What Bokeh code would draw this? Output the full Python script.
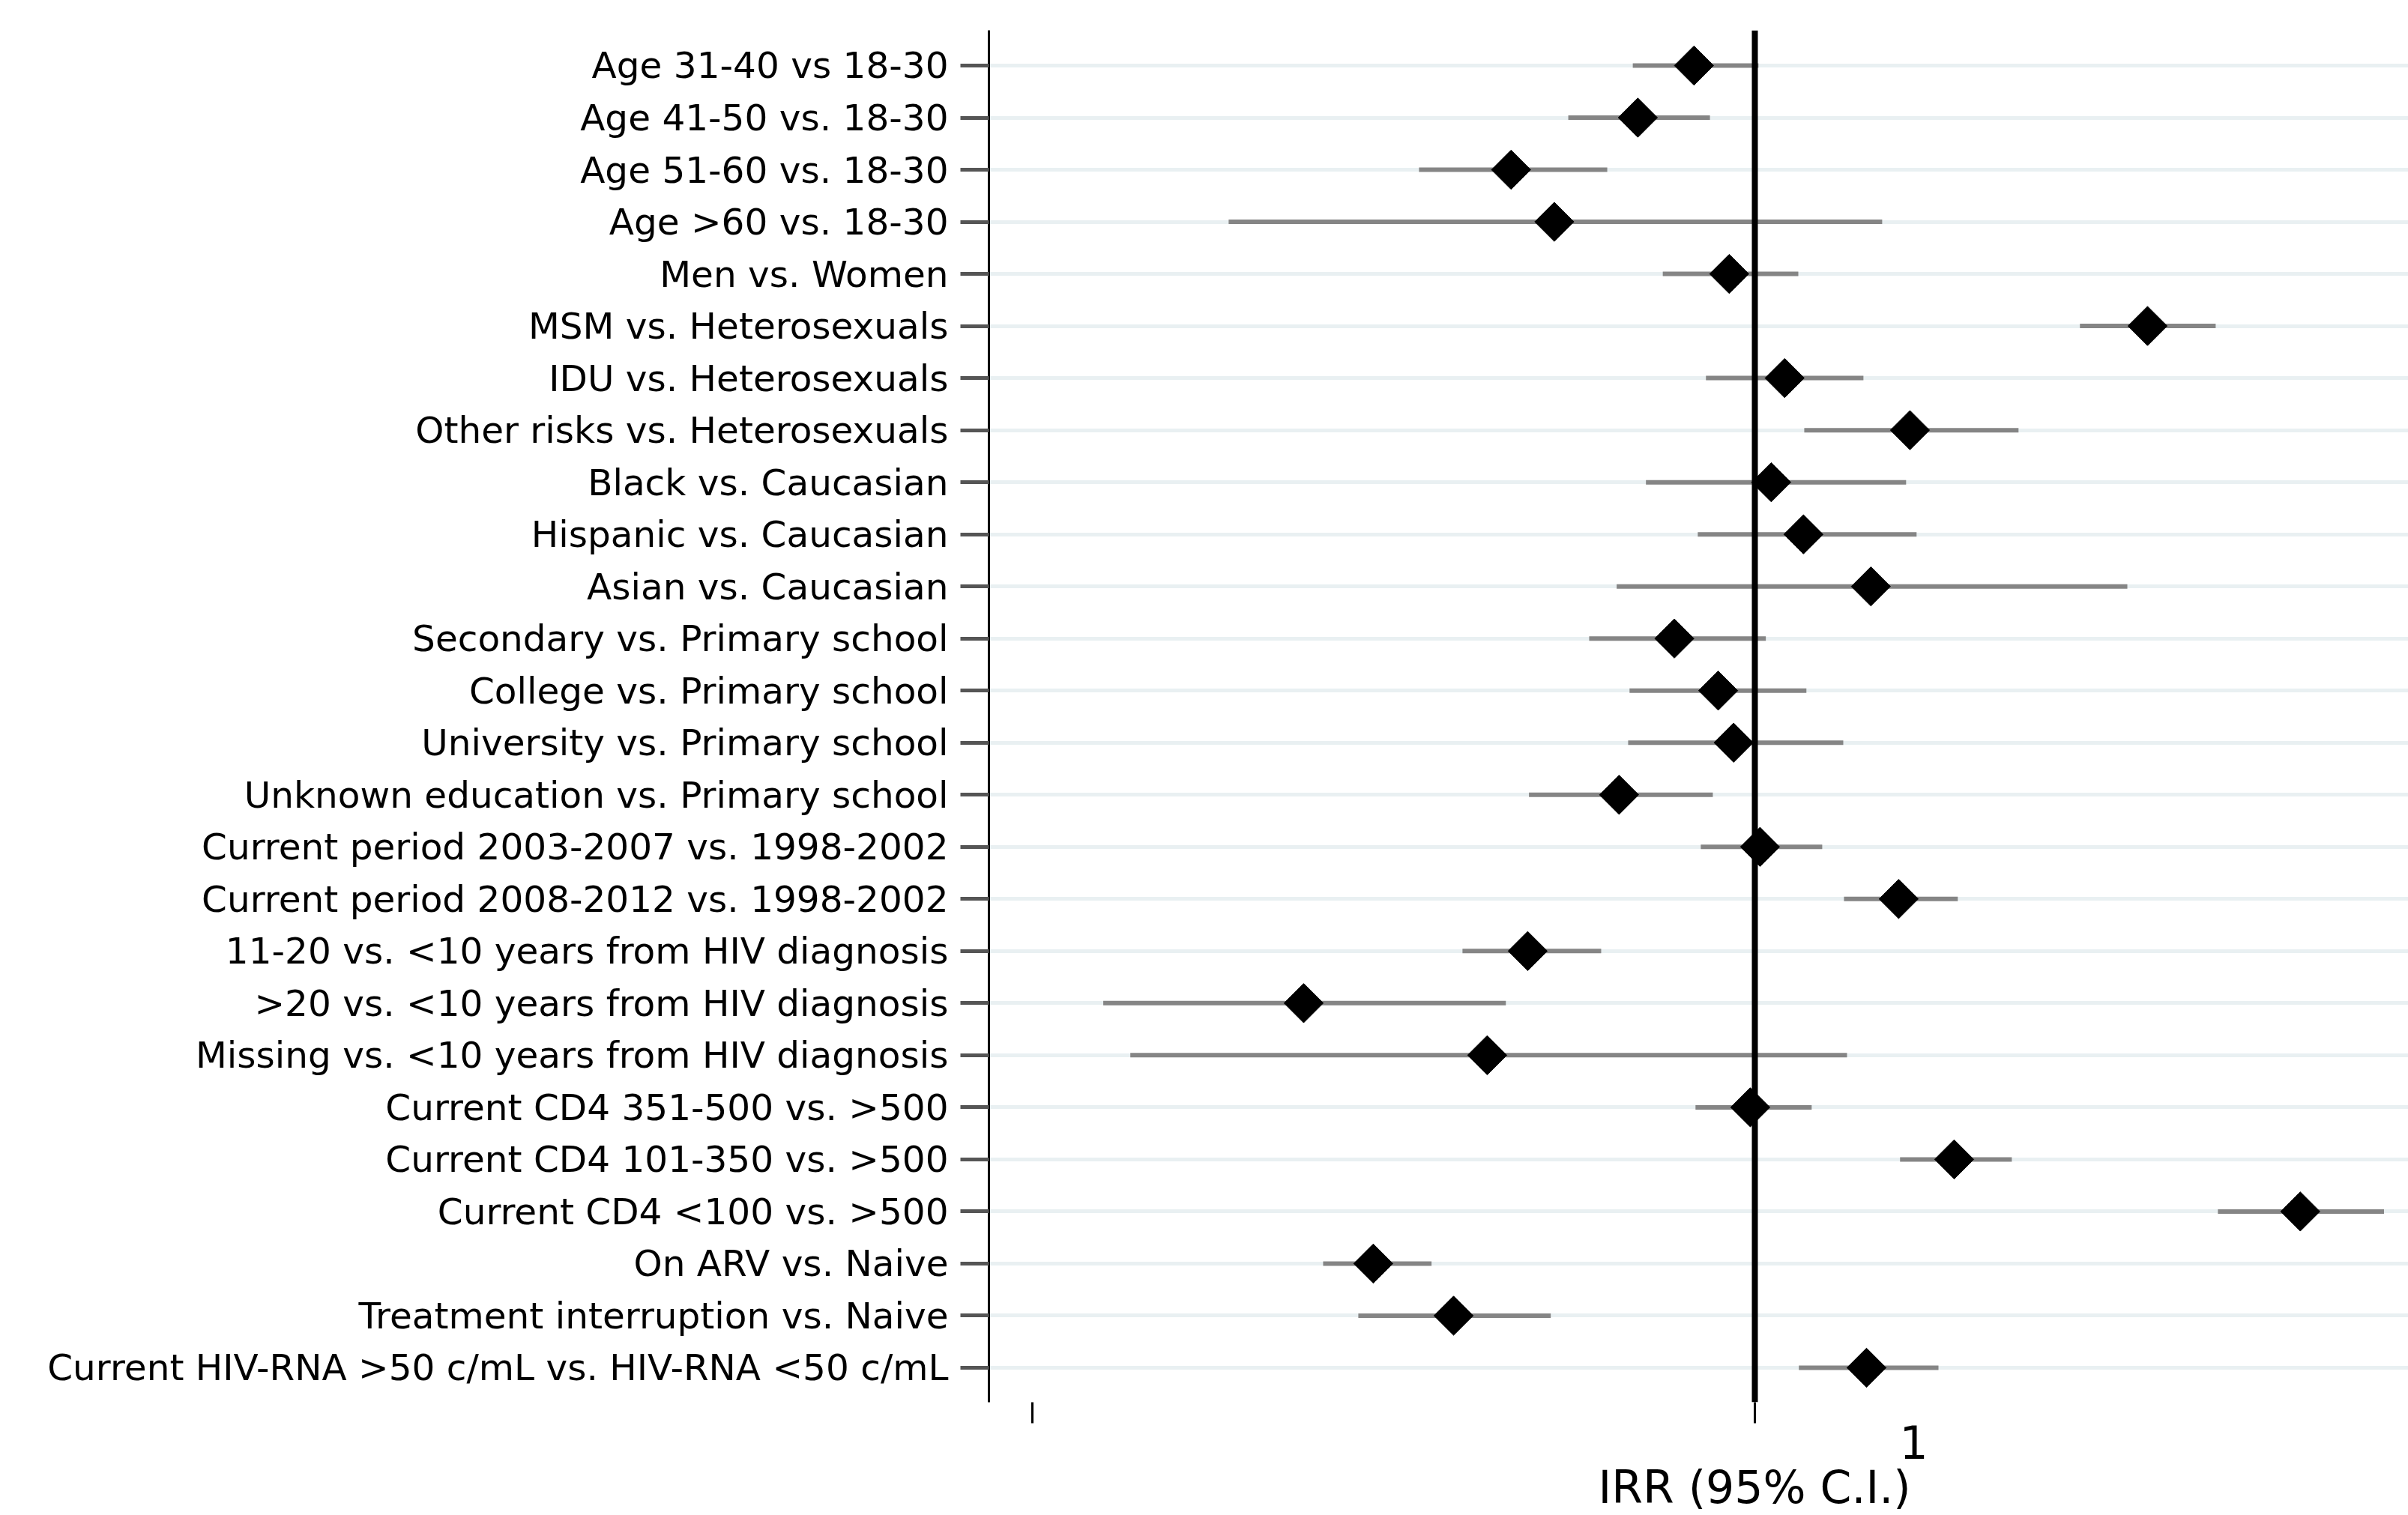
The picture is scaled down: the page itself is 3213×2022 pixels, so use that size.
import numpy as np
from bokeh.plotting import figure
from bokeh.models import Range1d, FixedTicker, Title, ColumnDataSource, CustomJSTickFormatter
from bokeh.embed import file_html
from bokeh.resources import INLINE

categories = [
    "Age 31-40 vs 18-30",
    "Age 41-50 vs. 18-30",
    "Age 51-60 vs. 18-30",
    "Age >60 vs. 18-30",
    "Men vs. Women",
    "MSM vs. Heterosexuals",
    "IDU vs. Heterosexuals",
    "Other risks vs. Heterosexuals",
    "Black vs. Caucasian",
    "Hispanic vs. Caucasian",
    "Asian vs. Caucasian",
    "Secondary vs. Primary school",
    "College vs. Primary school",
    "University vs. Primary school",
    "Unknown education vs. Primary school",
    "Current period 2003-2007 vs. 1998-2002",
    "Current period 2008-2012 vs. 1998-2002",
    "11-20 vs. <10 years from HIV diagnosis",
    ">20 vs. <10 years from HIV diagnosis",
    "Missing vs. <10 years from HIV diagnosis",
    "Current CD4 351-500 vs. >500",
    "Current CD4 101-350 vs. >500",
    "Current CD4 <100 vs. >500",
    "On ARV vs. Naive",
    "Treatment interruption vs. Naive",
    "Current HIV-RNA >50 c/mL vs. HIV-RNA <50 c/mL",
]

irr = [0.824, 0.689, 0.460, 0.528, 0.922, 3.497, 1.100, 1.640, 1.054, 1.168,
       1.448, 0.774, 0.890, 0.935, 0.649, 1.017, 1.582, 0.485, 0.2375, 0.4263,
       0.986, 1.888, 5.69, 0.2965, 0.383, 1.428]
ci_low = [0.678, 0.552, 0.343, 0.187, 0.746, 2.819, 0.856, 1.171, 0.707, 0.834,
          0.644, 0.590, 0.671, 0.668, 0.487, 0.842, 1.329, 0.394, 0.1254, 0.1367,
          0.828, 1.589, 4.376, 0.2527, 0.2827, 1.151]
ci_high = [1.012, 0.867, 0.625, 1.501, 1.149, 4.345, 1.414, 2.318, 1.620, 1.675,
           3.279, 1.036, 1.179, 1.326, 0.875, 1.240, 1.910, 0.613, 0.4524, 1.342,
           1.199, 2.269, 7.43, 0.357, 0.522, 1.796]

ref_value = [1]
x_ticks = [0.1, 1]
tick_text = "1"
axis_title = "IRR (95% C.I.)"

FONT = "DejaVu Sans"

rows = list(range(len(categories)))
src = ColumnDataSource(dict(row=rows, irr=irr, lo=ci_low, hi=ci_high))

p = figure(width=3213, height=2020, x_axis_type="log",
           x_range=Range1d(0.0871, 8.03), y_range=Range1d(25.662, -0.676),
           output_backend="svg", toolbar_location=None,
           min_border_left=1319, min_border_right=0,
           min_border_top=40, min_border_bottom=149)
p.outline_line_color = None
p.background_fill_color = "white"
p.border_fill_color = "white"

p.xgrid.grid_line_color = None
p.ygrid.ticker = FixedTicker(ticks=rows)
p.ygrid.grid_line_color = "#e9f0f2"
p.ygrid.grid_line_width = 5

# y axis with category labels
p.yaxis.ticker = FixedTicker(ticks=rows)
p.yaxis.major_label_overrides = {i: c for i, c in zip(rows, categories)}
p.yaxis.axis_line_color = "black"
p.yaxis.axis_line_width = 3
p.yaxis.major_tick_out = 38
p.yaxis.major_tick_in = 0
p.yaxis.major_tick_line_width = 5
p.yaxis.major_tick_line_color = "#555555"
p.yaxis.minor_tick_line_color = None
p.yaxis.major_label_standoff = 16
p.yaxis.major_label_text_font = FONT
p.yaxis.major_label_text_font_size = "48.5px"
p.yaxis.major_label_text_color = "black"

# x axis
p.xaxis.ticker = FixedTicker(ticks=x_ticks, minor_ticks=[])
p.xaxis.formatter = CustomJSTickFormatter(code="return ''")
p.xaxis.axis_line_color = None
p.xaxis.major_tick_out = 28
p.xaxis.major_tick_in = 0
p.xaxis.major_tick_line_width = 3
p.xaxis.major_tick_line_color = "black"
p.xaxis.minor_tick_line_color = None
p.xaxis.major_label_standoff = 0
p.xaxis.major_label_text_font_size = "1px"

# CI lines
p.segment(x0="lo", y0="row", x1="hi", y1="row", source=src,
          line_color="#858585", line_width=6)
# reference line
p.vspan(x=ref_value, line_color="black", line_width=8)
# point estimates
p.scatter(x="irr", y="row", source=src, marker="square", angle=np.pi / 4,
          size=37, fill_color="black", line_color="black", line_width=1)

t1 = Title(text=tick_text, align="left", offset=1215, text_font=FONT,
           text_font_size="60px", text_font_style="normal", text_color="black",
           standoff=0)
t2 = Title(text=axis_title, align="left", offset=813, text_font=FONT,
           text_font_size="60px", text_font_style="normal", text_color="black",
           standoff=2)
p.add_layout(t1, "below")
p.add_layout(t2, "below")

open("out.html", "w").write(file_html(p, INLINE))
